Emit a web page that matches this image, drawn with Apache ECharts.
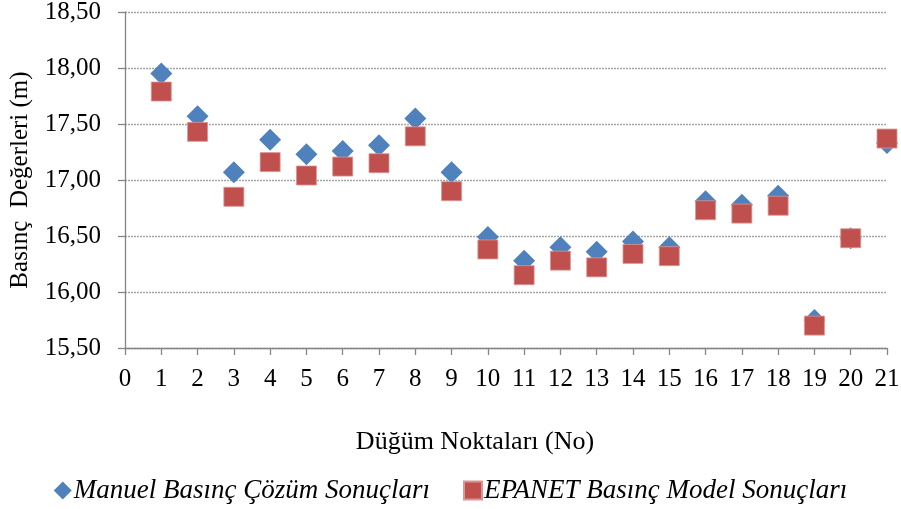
<!DOCTYPE html>
<html>
<head>
<meta charset="utf-8">
<script src="https://cdn.jsdelivr.net/npm/echarts@6/dist/echarts.min.js"></script>
<style>
  html, body { margin: 0; padding: 0; background: #fff; }
  #chart { width: 901px; height: 509px; }
</style>
</head>
<body>
<div id="chart"></div>
<script>
// Node numbers along the horizontal axis
const nodes = [1, 2, 3, 4, 5, 6, 7, 8, 9, 10, 11, 12, 13, 14, 15, 16, 17, 18, 19, 20, 21];

// Pressure values (m) per node
const manualPressure = [17.95, 17.57, 17.07, 17.36, 17.23, 17.26, 17.31, 17.55, 17.07, 16.49,
                        16.28, 16.40, 16.36, 16.45, 16.40, 16.81, 16.78, 16.86, 15.75, 16.48, 17.33];
const epanetPressure = [17.79, 17.43, 16.85, 17.16, 17.04, 17.12, 17.15, 17.39, 16.90, 16.38,
                        16.15, 16.28, 16.22, 16.34, 16.32, 16.73, 16.70, 16.77, 15.70, 16.48, 17.37];

const seriesNames = ['Manuel Basınç Çözüm Sonuçları', 'EPANET Basınç Model Sonuçları'];
const yTitle = 'Basınç  Değerleri (m)';
const xTitle = 'Düğüm Noktaları (No)';

const FONT = '"Liberation Serif", "Times New Roman", serif';
const pairs = (ys) => nodes.map((n, i) => [n, ys[i]]);

const chart = echarts.init(document.getElementById('chart'), null, { renderer: 'canvas' });
chart.setOption({
  animation: false,
  backgroundColor: '#ffffff',
  textStyle: { fontFamily: FONT, color: '#000' },
  grid: { left: 125, right: 14, top: 12, bottom: 161, containLabel: false, outerBoundsMode: 'none' },
  title: {
    text: xTitle,
    left: 470,
    top: 424,
    textAlign: 'center',
    textStyle: { fontFamily: FONT, fontSize: 26, fontWeight: 'normal', color: '#000' }
  },
  legend: {
    left: 'center',
    top: 472,
    itemGap: 33,
    itemWidth: 18,
    itemHeight: 18,
    textStyle: { fontFamily: FONT, fontSize: 27, fontStyle: 'italic', color: '#000', padding: [0, 0, 0, -3] },
    data: [
      { name: seriesNames[0], icon: 'diamond' },
      { name: seriesNames[1], icon: 'rect' }
    ]
  },
  xAxis: {
    type: 'value',
    min: 0,
    max: 21,
    interval: 1,
    axisLine: { show: true, onZero: false, lineStyle: { color: '#868686', width: 1.3 } },
    axisTick: { show: true, length: 7, lineStyle: { color: '#868686', width: 1.3 } },
    axisLabel: { fontFamily: FONT, fontSize: 25, color: '#000', margin: 19 },
    splitLine: { show: false }
  },
  yAxis: {
    type: 'value',
    min: 15.5,
    max: 18.5,
    interval: 0.5,
    name: yTitle,
    nameLocation: 'middle',
    nameGap: 92,
    nameRotate: 90,
    nameTextStyle: { fontFamily: FONT, fontSize: 25, color: '#000' },
    axisLine: { show: true, lineStyle: { color: '#868686', width: 1.3 } },
    axisTick: { show: true, length: 7, lineStyle: { color: '#868686', width: 1.3 } },
    axisLabel: {
      fontFamily: FONT, fontSize: 25, color: '#000', margin: 24,
      formatter: (v) => v.toFixed(2).replace('.', ',')
    },
    splitLine: { show: true, lineStyle: { color: '#a6a6a6', type: [2, 1], width: 1.3 } }
  },
  series: [
    {
      name: seriesNames[0],
      type: 'scatter',
      symbol: 'diamond',
      symbolSize: [22, 22],
      itemStyle: { color: '#4f81bd', opacity: 1 },
      z: 2,
      data: pairs(manualPressure)
    },
    {
      name: seriesNames[1],
      type: 'scatter',
      symbol: 'rect',
      symbolSize: [20, 19],
      itemStyle: { color: '#c0504d', opacity: 1, borderColor: '#d99694', borderWidth: 0.8 },
      z: 3,
      data: pairs(epanetPressure)
    }
  ]
});
</script>
</body>
</html>
